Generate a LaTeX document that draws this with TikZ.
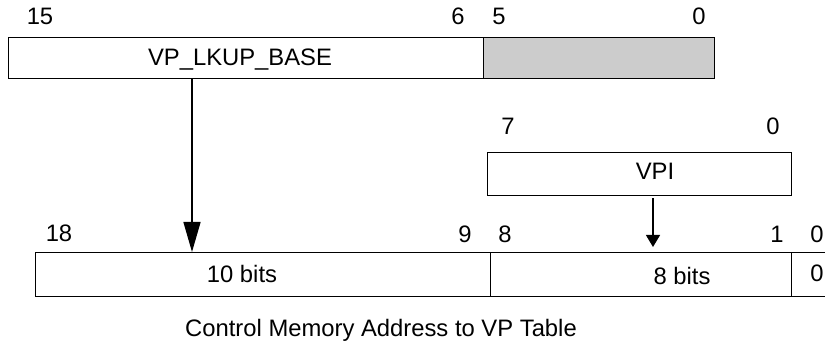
\documentclass[tikz,border=0pt]{standalone}
\usepackage{fontspec}
\setmainfont{Liberation Sans}
\usetikzlibrary{arrows.meta}
\definecolor{fieldgray}{HTML}{CCCCCC}
\tikzset{
  field/.style={draw=black, line width=1.4pt, rectangle, inner sep=0pt, anchor=north west},
  lbl/.style={inner sep=0pt, anchor=base, font=\fontsize{23.8}{28}\selectfont},
  bigarrow/.style={line width=1.4pt, -{Triangle[length=30pt,width=17pt]}},
  smallarrow/.style={line width=1.2pt, -{Triangle[length=12pt,width=14pt]}}
}
\begin{document}
\begin{tikzpicture}[x=1pt,y=-1pt]
\clip (0,0) rectangle (825,344);
\fill[white] (0,0) rectangle (825,344);
% top register
\node[field, minimum width=475pt, minimum height=41pt] (vp) at (8,37) {};
\node[field, fill=fieldgray, minimum width=231pt, minimum height=41pt] (rsv) at (483,37) {};
\node[lbl] (vpt) at (240,66) {VP\_LKUP\_BASE};
\node[lbl] (b15) at (40,25) {15};
\node[lbl] (b6) at (458,25) {6};
\node[lbl] (b5) at (499,25) {5};
\node[lbl] (b0a) at (699,25) {0};
% VPI
\node[field, line width=1.2pt, minimum width=304pt, minimum height=43pt] (vpi) at (487,152) {};
\node[lbl] (vpit) at (655,180) {VPI};
\node[lbl] (b7) at (508,135) {7};
\node[lbl] (b0b) at (773,135) {0};
% bottom address
\node[field, minimum width=455pt, minimum height=44pt] (f10) at (35,252) {};
\node[field, minimum width=301pt, minimum height=44pt] (f8) at (490,252) {};
\node[field, minimum width=60pt, minimum height=44pt] (f0) at (791,252) {};
\node[lbl] (t10) at (242,283) {10 bits};
\node[lbl] (t8) at (682,285) {8 bits};
\node[lbl] (t0) at (817,282) {0};
\node[lbl] (b18) at (59,242) {18};
\node[lbl] (b9) at (465,243) {9};
\node[lbl] (b8) at (505,243) {8};
\node[lbl] (b1) at (777,243) {1};
\node[lbl] (b0c) at (817,243) {0};
% caption
\node[lbl] (cap) at (381,337) {Control Memory Address to VP Table};
% arrows
\coordinate (ax1) at (192,0);
\coordinate (ax2) at (653,0);
\draw[bigarrow] (vp.south -| ax1) -- (f10.north -| ax1);
\draw[smallarrow] ([yshift=-2pt]vpi.south -| ax2) -- ([yshift=5pt]f8.north -| ax2);
\end{tikzpicture}
\end{document}
